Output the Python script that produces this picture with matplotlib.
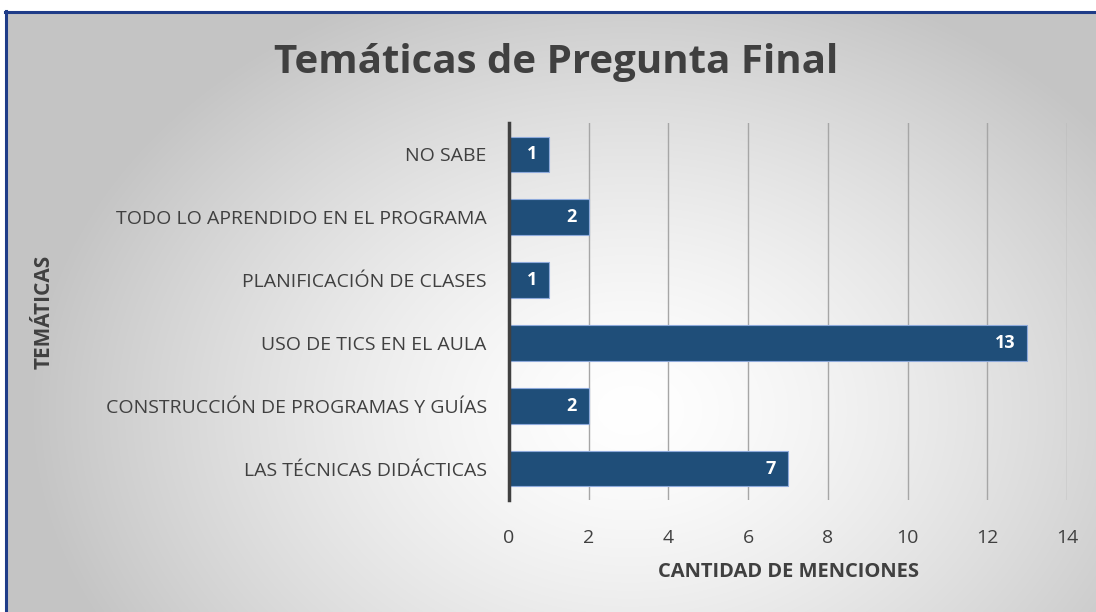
import numpy as np
import matplotlib.pyplot as plt
from matplotlib.patches import Rectangle

categorias = [
    "LAS TÉCNICAS DIDÁCTICAS",
    "CONSTRUCCIÓN DE PROGRAMAS Y GUÍAS",
    "USO DE TICS EN EL AULA",
    "PLANIFICACIÓN DE CLASES",
    "TODO LO APRENDIDO EN EL PROGRAMA",
    "NO SABE",
]
menciones = [7, 2, 13, 1, 2, 1]
xticks = [0, 2, 4, 6, 8, 10, 12, 14]

W, H = 1096, 612
fig = plt.figure(figsize=(W / 100, H / 100), dpi=100)
fig.patch.set_facecolor("white")

# fondo con degradado radial
bg = fig.add_axes([0, 0, 1, 1], zorder=0)
bg.set_xlim(0, W)
bg.set_ylim(H, 0)
bg.axis("off")
yy, xx = np.mgrid[0:H, 0:W]
r = np.sqrt(((xx - 630) / 620.0) ** 2 + ((yy - 410) / 470.0) ** 2)
g = np.clip(1.0 - 0.24 * r ** 1.4, 0.77, 1.0)
img = np.dstack([g, g, g])
bg.imshow(img, extent=[0, W, H, 0], aspect="auto", zorder=0)
bg.add_patch(Rectangle((0, 0), W, 11, facecolor="white", edgecolor="none", zorder=1))
bg.add_patch(Rectangle((0, 0), 5, H, facecolor="white", edgecolor="none", zorder=1))
bg.plot([6, 6], [11, H], color="#1f3c88", lw=2.2, zorder=2)
bg.plot([5, W], [11.5, 11.5], color="#1f3c88", lw=2.2, zorder=2)

ax = fig.add_axes([509 / W, 1 - 500 / H, (1067 - 509) / W, (500 - 123) / H], zorder=1)
ax.patch.set_alpha(0)
y = np.arange(len(categorias))
bars = ax.barh(y, menciones, height=0.57, color="#1f4e79", edgecolor="#8eaadb",
               linewidth=0.8, zorder=3)
for b, v in zip(bars, menciones):
    ax.text(b.get_width() - 0.3, b.get_y() + b.get_height() / 2, str(v),
            ha="right", va="center", color="white", fontsize=13,
            fontweight="bold", family="Open Sans", zorder=4)

ax.set_xlim(0, 14)
ax.set_ylim(-0.5, len(categorias) - 0.5)
ax.set_xticks(xticks)
ax.set_yticks(y)
ax.set_yticklabels(categorias, family="Open Sans", fontsize=14, color="#404040")
ax.set_xticklabels([str(t) for t in xticks], family="Open Sans", fontsize=14, color="#404040")
ax.tick_params(axis="both", length=0)
ax.tick_params(axis="y", pad=16)
ax.tick_params(axis="x", pad=21)
ax.grid(axis="x", color="#a6a6a6", lw=1, zorder=0)
for s in ["top", "right", "bottom"]:
    ax.spines[s].set_visible(False)
ax.spines["left"].set_color("#404040")
ax.spines["left"].set_linewidth(2.5)
ax.spines["left"].set_zorder(5)

ax.set_xlabel("CANTIDAD DE MENCIONES", family="Open Sans", fontsize=14.5,
              fontweight="bold", color="#404040", labelpad=11)
fig.text(44 / W, 1 - 312 / H, "TEMÁTICAS", rotation=90, ha="center", va="center",
         family="Open Sans", fontsize=15, fontweight="bold", color="#404040")
fig.text(556 / W, 1 - 63 / H, "Temáticas de Pregunta Final", ha="center", va="center",
         family="Open Sans", fontsize=29, fontweight="bold", color="#404040")

fig.savefig("out.png", dpi=100)
